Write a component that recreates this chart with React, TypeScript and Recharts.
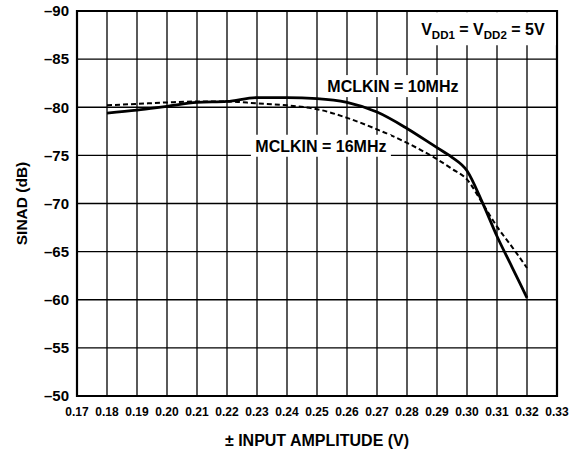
import {
  LineChart,
  Line,
  XAxis,
  YAxis,
  CartesianGrid,
  ReferenceArea,
  ReferenceDot,
  Label,
} from 'recharts';

const xTicks = [0.17, 0.18, 0.19, 0.2, 0.21, 0.22, 0.23, 0.24, 0.25, 0.26, 0.27, 0.28, 0.29, 0.3, 0.31, 0.32, 0.33];
const yTicks = [-90, -85, -80, -75, -70, -65, -60, -55, -50];

const amplitude = [0.18, 0.19, 0.2, 0.21, 0.22, 0.23, 0.24, 0.25, 0.26, 0.27, 0.28, 0.29, 0.295, 0.3, 0.305, 0.31, 0.315, 0.32];
const sinad10MHz = [-79.4, -79.7, -80.1, -80.5, -80.6, -81.0, -81.0, -80.9, -80.5, -79.5, -77.8, -75.8, -74.8, -73.4, -70.2, -66.6, -63.4, -60.2];
const sinad16MHz = [-80.2, -80.35, -80.5, -80.6, -80.6, -80.4, -80.2, -79.8, -78.9, -77.7, -76.3, -74.6, -73.6, -72.5, -70.1, -67.6, -65.5, -63.3];

const FONT = '"Liberation Sans", Arial, sans-serif';

const data = amplitude.map((a, i) => ({ x: a, s10: sinad10MHz[i], s16: sinad16MHz[i] }));

// white box with bold text, centred on a data point
function Note({ cx, cy, w, children }: any) {
  return (
    <g>
      <rect x={cx - w / 2} y={cy - 11} width={w} height={22} fill="#fff" />
      <text
        x={cx}
        y={cy + 6}
        textAnchor="middle"
        fontFamily={FONT}
        fontWeight="bold"
        fontSize={16}
        fill="#000"
      >
        {children}
      </text>
    </g>
  );
}

export default function App() {
  return (
    <div style={{ width: 576, height: 453, background: '#fff' }}>
      <style>{'body{margin:0}'}</style>
      <LineChart
        width={576}
        height={453}
        data={data}
        margin={{ top: 11, right: 19, bottom: 0, left: 0 }}
      >
        <CartesianGrid stroke="#000" strokeWidth={1.3} />
        <XAxis
          dataKey="x"
          type="number"
          domain={[0.17, 0.33]}
          ticks={xTicks}
          interval={0}
          height={57}
          tickLine={false}
          axisLine={false}
          tickMargin={5}
          tickFormatter={(v: number) => v.toFixed(2)}
          tick={{ fontSize: 12, fontWeight: 'bold', fill: '#000', fontFamily: FONT }}
        >
          <Label
            content={({ viewBox }: any) => (
              <text
                x={viewBox.x + viewBox.width / 2}
                y={viewBox.y + 50}
                textAnchor="middle"
                fontFamily={FONT}
                fontWeight="bold"
                fontSize={16}
                fill="#000"
              >
                ± INPUT AMPLITUDE (V)
              </text>
            )}
          />
        </XAxis>
        <YAxis
          type="number"
          domain={[-90, -50]}
          reversed
          ticks={yTicks}
          interval={0}
          width={77}
          tickLine={false}
          axisLine={false}
          tickFormatter={(v: number) => `–${Math.abs(v)}`}
          tick={{ fontSize: 15, fontWeight: 'bold', fill: '#000', fontFamily: FONT }}
        >
          <Label
            content={({ viewBox }: any) => {
              const cy = viewBox.y + viewBox.height / 2;
              return (
                <text
                  x={27}
                  y={cy}
                  transform={`rotate(-90 27 ${cy})`}
                  textAnchor="middle"
                  fontFamily={FONT}
                  fontWeight="bold"
                  fontSize={15.5}
                  fill="#000"
                >
                  SINAD (dB)
                </text>
              );
            }}
          />
        </YAxis>
        <ReferenceArea
          x1={0.17}
          x2={0.33}
          y1={-90}
          y2={-50}
          fill="none"
          stroke="#000"
          strokeWidth={2.2}
        />
        <ReferenceDot
          x={0.3053}
          y={-88.0}
          r={0}
          shape={(p: any) => (
            <g>
              <rect x={p.cx - 73} y={p.cy - 18} width={146} height={33} fill="#fff" />
              <text
                x={p.cx}
                y={p.cy + 5}
                textAnchor="middle"
                fontFamily={FONT}
                fontWeight="bold"
                fontSize={16}
                fill="#000"
              >
                V<tspan fontSize={11.5} dy={4}>DD1</tspan>
                <tspan dy={-4}> = V</tspan>
                <tspan fontSize={11.5} dy={4}>DD2</tspan>
                <tspan dy={-4}> = 5V</tspan>
              </text>
            </g>
          )}
        />
        <ReferenceDot
          x={0.2753}
          y={-82.2}
          r={0}
          shape={(p: any) => <Note cx={p.cx} cy={p.cy} w={144}>MCLKIN = 10MHz</Note>}
        />
        <ReferenceDot
          x={0.2513}
          y={-76.0}
          r={0}
          shape={(p: any) => <Note cx={p.cx} cy={p.cy} w={140}>MCLKIN = 16MHz</Note>}
        />
        <Line
          type="monotone"
          dataKey="s16"
          stroke="#000"
          strokeWidth={2}
          strokeDasharray="5 3"
          dot={false}
          isAnimationActive={false}
        />
        <Line
          type="monotone"
          dataKey="s10"
          stroke="#000"
          strokeWidth={2.8}
          dot={false}
          isAnimationActive={false}
        />
      </LineChart>
    </div>
  );
}
